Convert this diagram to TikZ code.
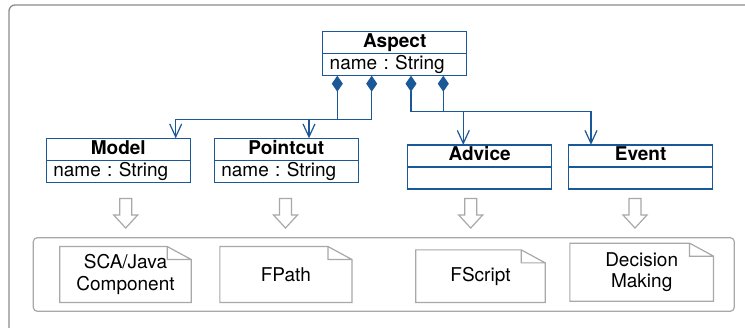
\documentclass[tikz,border=0pt]{standalone}
\usepackage{fontspec}
\setmainfont{TeX Gyre Heros}
\usepackage{tikz}
\usetikzlibrary{positioning,arrows.meta}

\definecolor{umlblue}{RGB}{26,88,152}
\definecolor{framegray}{RGB}{140,140,140}
\definecolor{notegray}{RGB}{168,168,168}

\tikzset{
  classhead/.style={rectangle,draw=umlblue,line width=1.4pt,outer sep=0pt,
    minimum width=144pt,minimum height=22pt,inner ysep=0pt,
    text height=13.5pt,text depth=4pt,font=\bfseries},
  classattr/.style={rectangle,draw=umlblue,line width=1.4pt,outer sep=0pt,
    minimum width=144pt,minimum height=22pt,inner ysep=0pt,inner xsep=7pt,
    text width=130pt,align=left,text height=13.5pt,text depth=4pt},
  comp/.style={draw=umlblue,line width=1.2pt,
    {Diamond[length=16pt,width=11pt]}-{Straight Barb[length=13pt,width=12pt]}},
  notebox/.style={rectangle,align=center,inner sep=0pt},
  noteline/.style={draw=notegray,line width=1.2pt},
  flow/.style={draw=notegray,line width=1.2pt,line join=miter}
}

\begin{document}
\frenchspacing
\fontsize{19}{21.5}\selectfont
\begin{tikzpicture}[x=1pt,y=-1pt]
  \clip (0,0) rectangle (745,327);
  \draw[framegray,line width=1.3pt,rounded corners=6pt] (9,5) rectangle (760,345);

  % metamodel
  \node[classhead] (aspect) at (394.7,42.7) {Aspect};
  \node[classattr,below=0pt of aspect] (aspect-attr) {name : String};

  \node[classhead] (model) at (118.3,149.3) {Model};
  \node[classattr,below=0pt of model] (model-attr) {name : String};
  \node[classhead,right=24pt of model] (pointcut) {Pointcut};
  \node[classattr,below=0pt of pointcut] (pointcut-attr) {name : String};
  \node[classhead] (advice) at (479.6,155.8) {Advice};
  \node[classattr,below=0pt of advice] (advice-attr) {};
  \node[classhead,right=17pt of advice] (event) {Event};
  \node[classattr,below=0pt of event] (event-attr) {};

  \draw[comp] ([xshift=14.6pt]aspect-attr.south west)
    |- ([xshift=57.4pt,yshift=19pt]model.north) -- ([xshift=57.4pt]model.north);
  \draw[comp] ([xshift=49pt]aspect-attr.south west)
    |- ([xshift=22.7pt,yshift=19pt]pointcut.north) -- ([xshift=22.7pt]pointcut.north);
  \draw[comp] ([xshift=88.3pt]aspect-attr.south west)
    |- ([xshift=-16.3pt,yshift=33.5pt]advice.north) -- ([xshift=-16.3pt]advice.north);
  \draw[comp] ([xshift=120.6pt]aspect-attr.south west)
    |- ([xshift=-49.6pt,yshift=33.5pt]event.north) -- ([xshift=-49.6pt]event.north);

  % mapping arrows
  \foreach \x in {125.7,285.5,470.7,635}
    \draw[flow] (\x-6,198.5) -- (\x+6,198.5) -- (\x+6,215) -- (\x+12,215)
      -- (\x,228) -- (\x-12,215) -- (\x-6,215) -- cycle;

  % implementations
  \node[noteline,rectangle,rounded corners=4pt,minimum width=701pt,minimum height=73.6pt]
    (impl) at (383.8,274.5) {};
  \node[notebox,minimum width=131pt,minimum height=55.6pt] (sca) at (125.5,274.5) {SCA/Java\\Component};
  \node[notebox,minimum width=131.7pt,minimum height=55.6pt] (fpath) at (285.9,274.5) {FPath};
  \node[notebox,minimum width=129pt,minimum height=52.3pt] (fscript) at (480.5,276.2) {FScript};
  \node[notebox,minimum width=143.3pt,minimum height=57.7pt] (decision) at (641.7,272.2) {Decision\\Making};
  \foreach \n in {sca,fpath,fscript,decision}
    \draw[noteline] (\n.south west) -- (\n.north west) -- ([xshift=-24pt]\n.north east)
      -- ([yshift=-13pt]\n.north east) -- (\n.south east) -- cycle
      ([xshift=-24pt]\n.north east) |- ([yshift=-13pt]\n.north east);
\end{tikzpicture}
\end{document}
